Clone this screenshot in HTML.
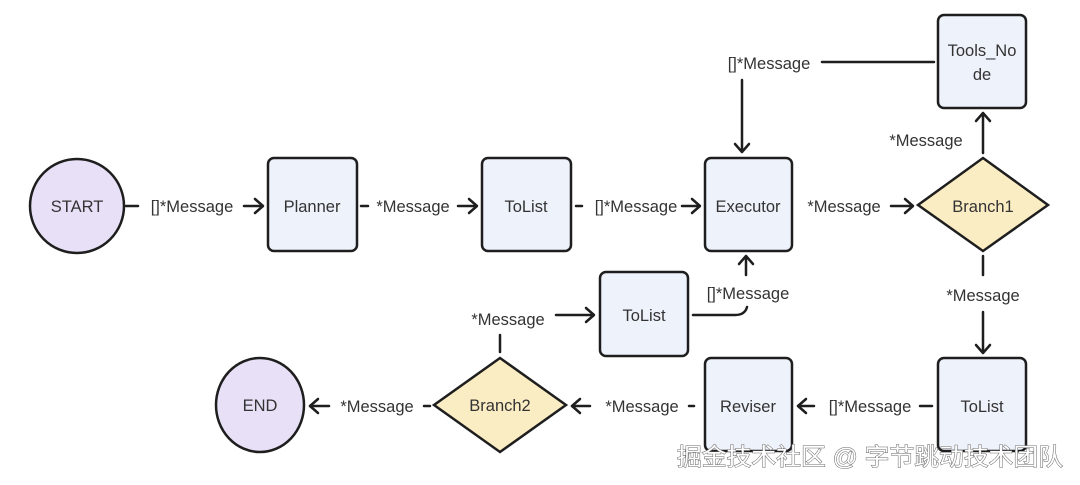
<!DOCTYPE html>
<html><head><meta charset="utf-8"><style>
html,body{margin:0;padding:0;background:#fff;width:1080px;height:485px;overflow:hidden}
svg text{font-family:"Liberation Sans","Noto Sans CJK SC",sans-serif;font-size:16.5px;fill:#333}
</style></head><body>
<svg width="1080" height="485" viewBox="0 0 1080 485" xmlns="http://www.w3.org/2000/svg">
<g stroke="#1e1e1e" stroke-width="2.5" fill="none" stroke-linecap="round" stroke-linejoin="round">
<line x1="126" y1="206" x2="138" y2="206"/>
<line x1="244" y1="206" x2="262" y2="206"/><path d="M255 199 L263 206 L255 213"/>
<line x1="361" y1="206" x2="368" y2="206"/>
<line x1="458" y1="206" x2="476" y2="206"/><path d="M469 199 L477 206 L469 213"/>
<line x1="576" y1="206" x2="582" y2="206"/>
<line x1="682" y1="206" x2="699" y2="206"/><path d="M692 199 L700 206 L692 213"/>
<line x1="891" y1="206" x2="912" y2="206"/><path d="M905 199 L913 206 L905 213"/>
<line x1="822" y1="62" x2="934" y2="62"/>
<line x1="742" y1="80" x2="742" y2="151"/><path d="M735 144 L742 152 L749 144"/>
<line x1="983" y1="153" x2="983" y2="114"/><path d="M976 121 L983 113 L990 121"/>
<line x1="983" y1="256" x2="983" y2="275"/>
<line x1="983" y1="312" x2="983" y2="352"/><path d="M976 345 L983 353 L990 345"/>
<line x1="920" y1="406" x2="932" y2="406"/>
<line x1="814" y1="406" x2="798" y2="406"/><path d="M806 399 L798 406 L806 413"/>
<line x1="689" y1="406" x2="694" y2="406"/>
<line x1="590" y1="406" x2="572" y2="406"/><path d="M580 399 L572 406 L580 413"/>
<line x1="424" y1="406" x2="430" y2="406"/>
<line x1="329" y1="406" x2="310" y2="406"/><path d="M318 399 L310 406 L318 413"/>
<line x1="500" y1="352" x2="500" y2="335"/>
<line x1="556" y1="315" x2="593" y2="315"/><path d="M586 308 L594 315 L586 322"/>
<path d="M693 315 L735 315 Q745 315 747 307"/>
<line x1="746" y1="275" x2="746" y2="257"/><path d="M739 264 L746 256 L753 264"/>
</g>
<g stroke="#1e1e1e" stroke-width="2.5">
<circle cx="77" cy="206" r="47" fill="#e7e0f7"/>
<ellipse cx="260" cy="405" rx="44" ry="47" fill="#e7e0f7"/>
<rect x="268" y="158" width="89" height="93" rx="6" fill="#eef2fb"/>
<rect x="482" y="158" width="89" height="93" rx="6" fill="#eef2fb"/>
<rect x="705" y="158" width="87" height="93" rx="6" fill="#eef2fb"/>
<rect x="938" y="15" width="88" height="93" rx="6" fill="#eef2fb"/>
<rect x="600" y="272" width="88" height="84" rx="6" fill="#eef2fb"/>
<rect x="705" y="358" width="87" height="93" rx="6" fill="#eef2fb"/>
<rect x="938" y="358" width="88" height="93" rx="6" fill="#eef2fb"/>
<polygon points="983,158 1048,205 983,251 918,205" fill="#fbedc3"/>
<polygon points="500,358 566,405 500,452 434,405" fill="#fbedc3"/>
</g>
<g text-anchor="middle">
<text x="77" y="212">START</text>
<text x="260" y="411">END</text>
<text x="312" y="212">Planner</text>
<text x="526" y="212">ToList</text>
<text x="748" y="212">Executor</text>
<text x="982" y="56">Tools_No</text>
<text x="982" y="80">de</text>
<text x="644" y="321">ToList</text>
<text x="748" y="412">Reviser</text>
<text x="982" y="412">ToList</text>
<text x="983" y="212">Branch1</text>
<text x="500" y="411">Branch2</text>
<text x="192" y="212">[]*Message</text>
<text x="413" y="212">*Message</text>
<text x="636" y="212">[]*Message</text>
<text x="844" y="212">*Message</text>
<text x="769" y="69">[]*Message</text>
<text x="926" y="146">*Message</text>
<text x="983" y="301">*Message</text>
<text x="748" y="299">[]*Message</text>
<text x="508" y="325">*Message</text>
<text x="870" y="412">[]*Message</text>
<text x="642" y="412">*Message</text>
<text x="377" y="412">*Message</text>
</g>
<text x="677" y="465" textLength="386" lengthAdjust="spacingAndGlyphs" style="font-size:24px;fill:#fff;stroke:#666;stroke-width:1;paint-order:stroke">掘金技术社区 @ 字节跳动技术团队</text>
</svg>
</body></html>
